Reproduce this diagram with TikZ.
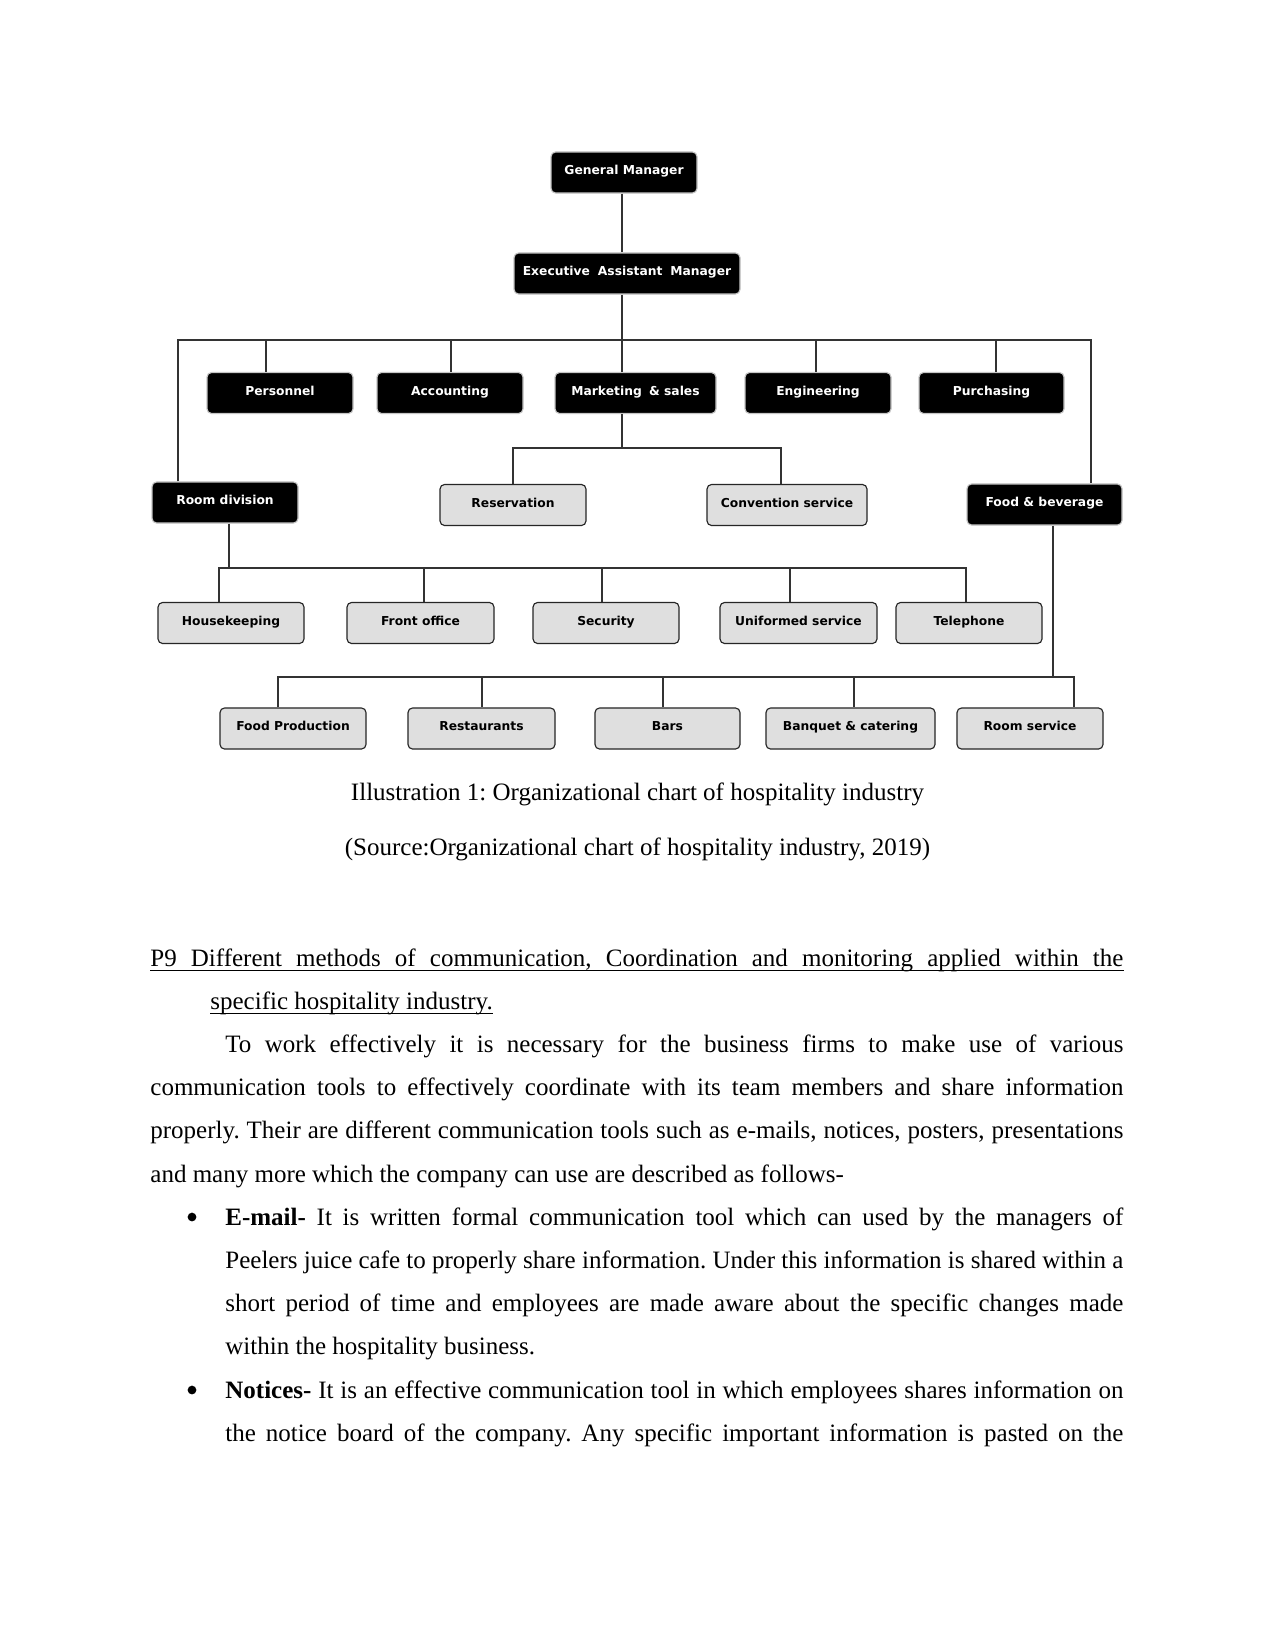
\documentclass[tikz,border=0pt]{standalone}
\usepackage{fontspec}
\setmainfont{Liberation Serif}
\newfontfamily\chartfont{DejaVu Sans}
\frenchspacing
\begin{document}
\frenchspacing
\begin{tikzpicture}[x=0.48pt,y=-0.48pt,
  box/.style={rounded corners=2.2pt, minimum height=19.7pt, inner sep=0pt,
     text height=5pt, text depth=2.8pt,
     font=\chartfont\bfseries\fontsize{5.9}{7}\selectfont, line width=0.55pt},
  dbox/.style={box, fill=black, draw=gray!45, text=white},
  gbox/.style={box, fill=gray!25, draw=black!85, text=black},
  bw/.style={minimum width=#1*0.48pt},
  conn/.style={line width=0.6pt, draw=black!80},
  txt/.style={anchor=base west, inner sep=0pt, font=\fontsize{12}{14}\selectfont},
  ctxt/.style={anchor=base, inner sep=0pt, font=\fontsize{12}{14}\selectfont},
  bul/.style={circle, fill=black, inner sep=0pt, minimum size=4.2pt},
  ul/.style={line width=0.55pt}]
\fill[white] (0,0) rectangle (1275,1651);
\useasboundingbox (0,0) rectangle (1275,1651);

% ---- boxes ----
\node[dbox, bw=146] (gm)  at (624,172.5) {General Manager};
\node[dbox, bw=226] (eam) at (627,273.5) {Executive\hspace{0.3em} Assistant\hspace{0.3em} Manager};

\node[dbox, bw=146] (per) at (280,393) {Personnel};
\node[dbox, bw=146] (acc) at (450,393) {Accounting};
\node[dbox, bw=161] (ms)  at (635.5,393) {Marketing\hspace{0.25em} \&\ sales};
\node[dbox, bw=146] (eng) at (818,393) {Engineering};
\node[dbox, bw=145] (pur) at (991.5,393) {Purchasing};

\node[dbox, bw=146] (rd)   at (225,502.5) {Room division};
\node[gbox, bw=146] (res)  at (513,505) {Reservation};
\node[gbox, bw=160] (conv) at (787,505) {Convention service};
\node[dbox, bw=155] (fb)   at (1044.5,504.5) {Food \&\ beverage};

\node[gbox, bw=146] (hk)  at (231,623) {Housekeeping};
\node[gbox, bw=147] (fo)  at (420.5,623) {Front office};
\node[gbox, bw=146] (sec) at (606,623) {Security};
\node[gbox, bw=157] (uni) at (798.5,623) {Uniformed service};
\node[gbox, bw=146] (tel) at (969,623) {Telephone};

\node[gbox, bw=146] (fp)   at (293,728.5) {Food Production};
\node[gbox, bw=147] (rest) at (481.5,728.5) {Restaurants};
\node[gbox, bw=145] (bars) at (667.5,728.5) {Bars};
\node[gbox, bw=169] (banq) at (850.5,728.5) {Banquet \&\ catering};
\node[gbox, bw=146] (rs)   at (1030,728.5) {Room service};

% ---- connectors ----
\coordinate (sp) at (622,340);
\coordinate (L)  at (178,340);
\coordinate (R)  at (1091,340);
\draw[conn] (gm.south -| sp) -- (eam.north -| sp);
\draw[conn] (eam.south -| sp) -- (ms.north -| sp);
\draw[conn] (rd.north -| L) -- (L) -- (R) -- (fb.north -| R);
\foreach \x/\n in {266/per,451/acc,816/eng,996/pur} {
  \coordinate (t) at (\x,340);
  \draw[conn] (t) -- (t |- \n.north);
}
% marketing sub-branch
\coordinate (m1) at (513,448);
\coordinate (m2) at (781,448);
\draw[conn] (ms.south -| sp) -- (m1 -| sp);
\draw[conn] (res.north -| m1) -- (m1) -- (m2) -- (conv.north -| m2);
% room division branch
\coordinate (r0) at (229,568);
\coordinate (r1) at (219,568);
\coordinate (r2) at (966,568);
\draw[conn] (rd.south -| r0) -- (r0);
\draw[conn] (hk.north -| r1) -- (r1) -- (r2) -- (tel.north -| r2);
\foreach \x/\n in {424/fo,602/sec,790/uni} {
  \coordinate (t) at (\x,568);
  \draw[conn] (t) -- (t |- \n.north);
}
% food & beverage branch
\coordinate (f0) at (1053,677);
\coordinate (f1) at (278,677);
\coordinate (f2) at (1074,677);
\draw[conn] (fb.south -| f0) -- (f0);
\draw[conn] (fp.north -| f1) -- (f1) -- (f2) -- (rs.north -| f2);
\foreach \x/\n in {482/rest,663/bars,854/banq} {
  \coordinate (t) at (\x,677);
  \draw[conn] (t) -- (t |- \n.north);
}

% ---- captions ----
\node[ctxt] (c1) at (637.5,800) {Illustration 1: Organizational chart of hospitality industry};
\node[ctxt] (c2) at (637.5,855) {(Source:Organizational chart of hospitality industry, 2019)};

% ---- body text ----
\node[txt] (h1) at (150,966) {\makebox[467.04pt][s]{P9 Different methods of communication, Coordination and monitoring applied within the}};
\node[txt] (h2) at (210,1009.2) {specific hospitality industry.};
\draw[ul] ([yshift=-2.2pt]h1.base west) -- ([yshift=-2.2pt]h1.base east);
\draw[ul] ([yshift=-2.2pt]h2.base west) -- ([yshift=-2.2pt]h2.base east);

\node[txt] (p1) at (225,1052.4) {\makebox[431.04pt][s]{To work effectively it is necessary for the business firms to make use of various}};
\node[txt] (p2) at (150,1095.6) {\makebox[467.04pt][s]{communication tools to effectively coordinate with its team members and share information}};
\node[txt] (p3) at (150,1138.8) {\makebox[467.04pt][s]{properly. Their are different communication tools such as e-mails, notices, posters, presentations}};
\node[txt] (p4) at (150,1182) {and many more which the company can use are described as follows-};

\node[bul] (bu1) at (192,1217) {};
\node[txt] (e1) at (225,1225.2) {\makebox[431.04pt][s]{\textbf{E-mail-} It is written formal communication tool which can used by the managers of}};
\node[txt] (e2) at (225,1268.4) {\makebox[431.04pt][s]{Peelers juice cafe to properly share information. Under this information is shared within a}};
\node[txt] (e3) at (225,1311.6) {\makebox[431.04pt][s]{short period of time and employees are made aware about the specific changes made}};
\node[txt] (e4) at (225,1354.8) {within the hospitality business.};

\node[bul] (bu2) at (192,1390) {};
\node[txt] (n1) at (225,1398) {\makebox[431.04pt][s]{\textbf{Notices-} It is an effective communication tool in which employees shares information on}};
\node[txt] (n2) at (225,1441.2) {\makebox[431.04pt][s]{the notice board of the company. Any specific important information is pasted on the}};
\end{tikzpicture}
\end{document}
